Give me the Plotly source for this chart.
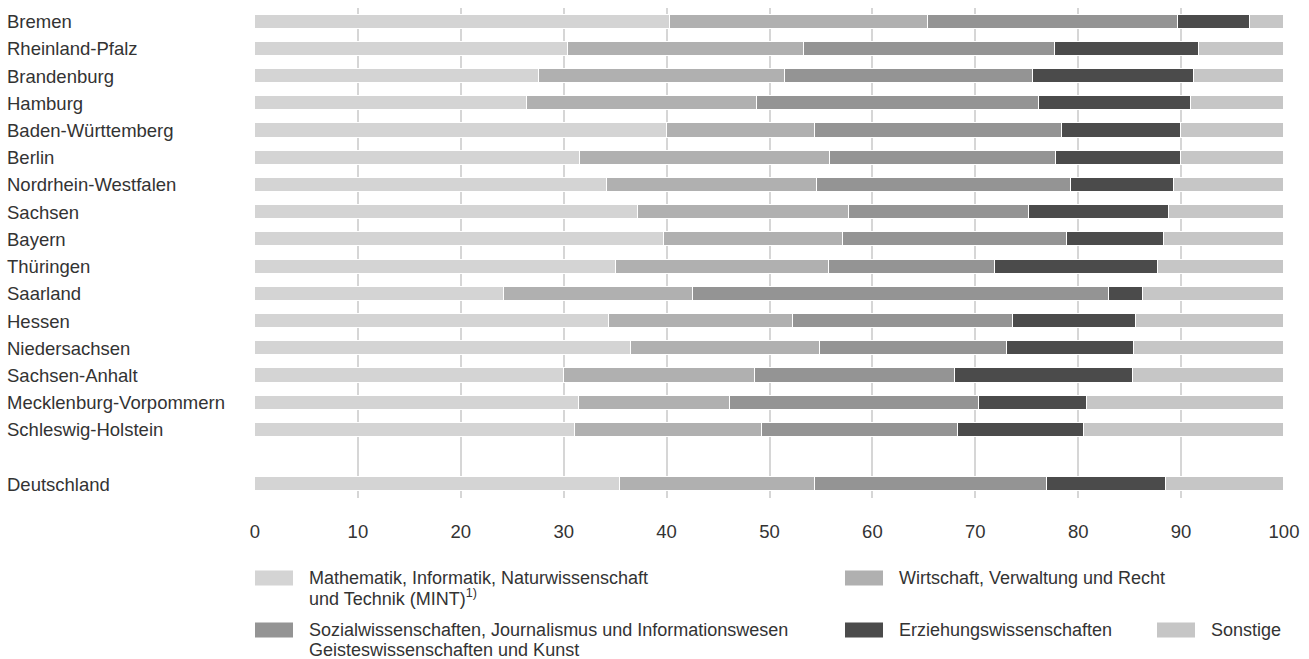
import plotly.graph_objects as go

states = ["Bremen", "Rheinland-Pfalz", "Brandenburg", "Hamburg", "Baden-Württemberg",
          "Berlin", "Nordrhein-Westfalen", "Sachsen", "Bayern", "Thüringen", "Saarland",
          "Hessen", "Niedersachsen", "Sachsen-Anhalt", "Mecklenburg-Vorpommern",
          "Schleswig-Holstein", "Deutschland"]
positions = list(range(16)) + [17]

mint = [40.3, 30.4, 27.6, 26.4, 40.0, 31.6, 34.2, 37.2, 39.7, 35.1, 24.2, 34.4, 36.5, 30.0, 31.5, 31.1, 35.5]
wirtschaft = [25.1, 23.0, 23.9, 22.4, 14.4, 24.3, 20.4, 20.5, 17.4, 20.7, 18.4, 17.9, 18.4, 18.6, 14.7, 18.2, 18.9]
sozial = [24.3, 24.3, 24.1, 27.4, 24.0, 21.9, 24.7, 17.5, 21.8, 16.1, 40.4, 21.4, 18.2, 19.4, 24.2, 19.0, 22.6]
erziehung = [7.0, 14.0, 15.7, 14.8, 11.6, 12.2, 10.0, 13.6, 9.4, 15.9, 3.3, 11.9, 12.3, 17.3, 10.5, 12.3, 11.5]
sonstige = [3.3, 8.3, 8.7, 9.0, 10.0, 10.0, 10.7, 11.2, 11.7, 12.2, 13.7, 14.4, 14.6, 14.7, 19.1, 19.4, 11.5]

series_names = ["Mathematik, Informatik, Naturwissenschaft und Technik (MINT)1)",
                "Wirtschaft, Verwaltung und Recht",
                "Sozialwissenschaften, Journalismus und Informationswesen Geisteswissenschaften und Kunst",
                "Erziehungswissenschaften",
                "Sonstige"]
legend_lines = [["Mathematik, Informatik, Naturwissenschaft", "und Technik (MINT)<sup>1)</sup>"],
                ["Wirtschaft, Verwaltung und Recht"],
                ["Sozialwissenschaften, Journalismus und Informationswesen", "Geisteswissenschaften und Kunst"],
                ["Erziehungswissenschaften"],
                ["Sonstige"]]
colors = ["#d4d4d4", "#b0b0b0", "#949494", "#4b4b4b", "#c6c6c6"]
x_ticks = [0, 10, 20, 30, 40, 50, 60, 70, 80, 90, 100]

FONT = "Liberation Sans, Arial, sans-serif"
FS = 18.5
FS_LEG = 18
TXT = "#333333"

W, H = 1309, 659
L, R, T, B = 255, 25, 8, 161
PW, PH = W - L - R, H - T - B

fig = go.Figure()
for vals, name, col in zip([mint, wirtschaft, sozial, erziehung, sonstige], series_names, colors):
    fig.add_trace(go.Bar(
        y=positions, x=vals, orientation="h", name=name,
        marker=dict(color=col, line=dict(color="white", width=1)),
        width=0.52, showlegend=False, hoverinfo="x+y"))

# category labels (left aligned)
for st, p in zip(states, positions):
    fig.add_annotation(x=-(L - 5) / PW, xref="paper", y=p, yref="y", text=st,
                       xanchor="left", yanchor="middle", showarrow=False,
                       font=dict(family=FONT, size=FS, color=TXT))

# manual legend
def px_x(px):
    return (px - L) / PW

def px_y(py):
    return (T + PH - py) / PH

legend_pos = [(255, 578), (845, 578), (255, 630), (845, 630), (1157, 630)]
for idx, ((sx, cy), lines) in enumerate(zip(legend_pos, legend_lines)):
    fig.add_shape(type="rect", xref="paper", yref="paper",
                  x0=px_x(sx), x1=px_x(sx + 38), y0=px_y(cy - 7.5), y1=px_y(cy + 7.5),
                  fillcolor=colors[idx], line=dict(width=0), layer="above")
    for k, line in enumerate(lines):
        fig.add_annotation(x=px_x(sx + 52), xref="paper", y=px_y(cy + k * 19.5), yref="paper",
                           text=line, xanchor="left", yanchor="middle", showarrow=False,
                           font=dict(family=FONT, size=FS_LEG, color=TXT))

fig.update_layout(
    width=W, height=H,
    margin=dict(l=L, r=R, t=T, b=B, pad=0),
    plot_bgcolor="white", paper_bgcolor="white",
    barmode="stack", bargap=0,
    font=dict(family=FONT, size=FS, color=TXT),
    xaxis=dict(range=[0, 100], tickvals=x_ticks, showgrid=True, gridcolor="#d6d6d6",
               gridwidth=1.5, zeroline=False, showline=False, ticks="",
               ticklabelstandoff=20, tickfont=dict(family=FONT, size=FS, color=TXT)),
    yaxis=dict(range=[17.5, -0.5], showticklabels=False, showgrid=False,
               zeroline=False, showline=False, ticks=""),
)

fig.write_html("out.html", config={"displayModeBar": False},
               post_script="document.body.style.margin='0px';document.body.style.overflow='hidden';")
